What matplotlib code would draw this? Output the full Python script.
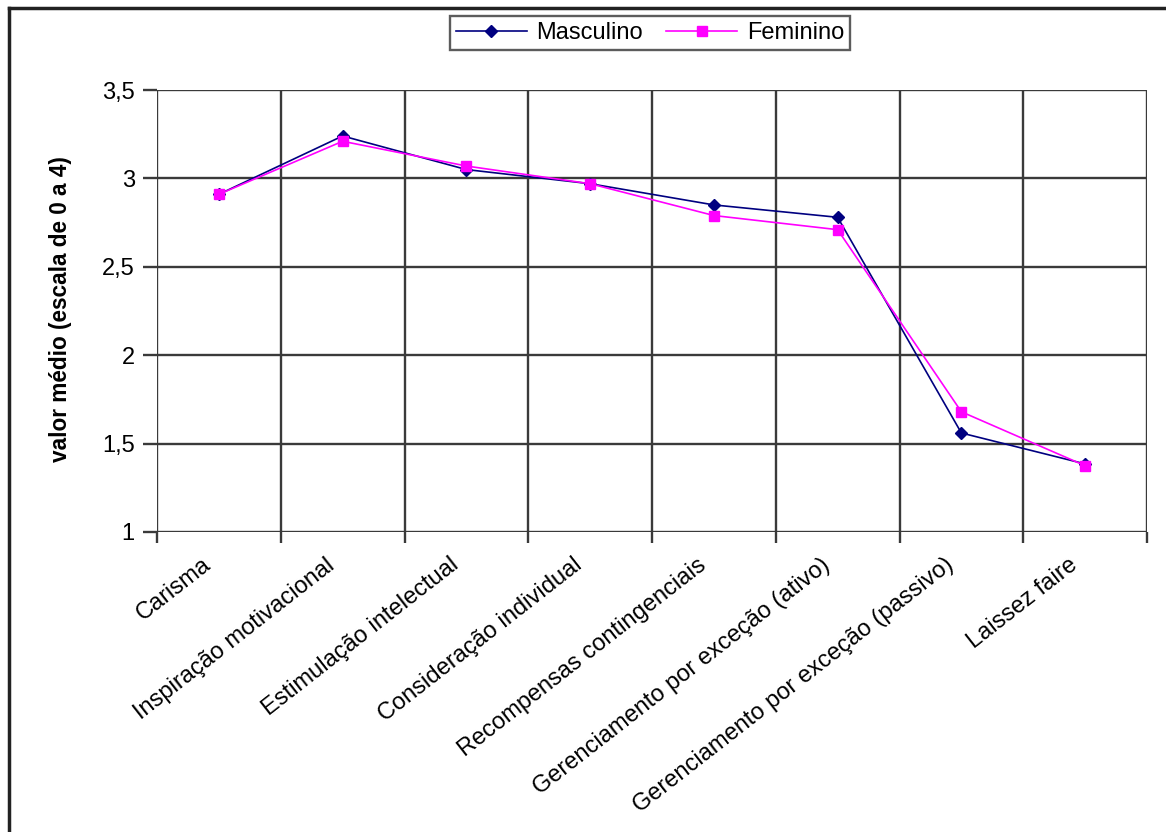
import matplotlib
matplotlib.use('Agg')
import matplotlib.pyplot as plt
from matplotlib.lines import Line2D
from matplotlib.transforms import Bbox, TransformedBbox
import numpy as np

plt.rcParams['font.family'] = ['Liberation Sans', 'DejaVu Sans']

categorias = ['Carisma', 'Inspiração motivacional', 'Estimulação intelectual',
              'Consideração individual', 'Recompensas contingenciais',
              'Gerenciamento por exceção (ativo)',
              'Gerenciamento por exceção (passivo)', 'Laissez faire']
masculino = [2.91, 3.24, 3.05, 2.97, 2.85, 2.78, 1.56, 1.385]
feminino = [2.91, 3.21, 3.07, 2.97, 2.79, 2.71, 1.68, 1.375]
y_ticks = [1, 1.5, 2, 2.5, 3, 3.5]
y_tick_labels = ['1', '1,5', '2', '2,5', '3', '3,5']

fig = plt.figure(figsize=(11.66, 8.32), dpi=100)
ax = fig.add_axes([157 / 1166, 1 - 532 / 832, (1147 - 157) / 1166, (532 - 90) / 832])

x = np.arange(len(categorias))
ax.plot(x, masculino, color='#000080', lw=1.2, marker='D', ms=6.5,
        label='Masculino', zorder=3)
ax.plot(x, feminino, color='#FF00FF', lw=1.2, marker='s', ms=7,
        label='Feminino', zorder=4)

ax.set_xlim(-0.5, len(categorias) - 0.5)
ax.set_ylim(1, 3.5)

# gridlines sit on the category boundaries, labels on the centres
bounds = np.arange(len(categorias) + 1) - 0.5
for b in bounds:
    ax.axvline(b, color='#3a3a3a', lw=1.7, zorder=1)
for v in y_ticks:
    ax.axhline(v, color='#3a3a3a', lw=1.7, zorder=1)

ax.set_yticks(y_ticks)
ax.set_yticklabels(y_tick_labels, fontsize=17)
ax.tick_params(axis='y', length=10, width=1.7, color='#3a3a3a', pad=6)

ax.set_xticks(bounds)
ax.set_xticklabels([])
ax.tick_params(axis='x', length=8, width=1.7, color='#3a3a3a')

for i, cat in enumerate(categorias):
    ax.annotate(cat, xy=(i, 1), xytext=(-17, -22), textcoords='offset pixels',
                fontsize=17, rotation=38, ha='right', va='top',
                rotation_mode='anchor', annotation_clip=False)

for s in ax.spines.values():
    s.set_visible(False)

# axis title is cut off at the top of its box
ylab = fig.text(61 / 1166, 1 - 462 / 832, 'valor médio (escala de 0 a 4)',
                rotation=90, ha='center', va='bottom', fontsize=16.3,
                fontweight='bold')
ylab.set_clip_box(TransformedBbox(Bbox([[0, 0], [1, 1 - 156 / 832]]),
                                  fig.transFigure))
ylab.set_clip_on(True)

handles = [Line2D([], [], color='#000080', lw=1.2, marker='D', ms=6.5),
           Line2D([], [], color='#FF00FF', lw=1.2, marker='s', ms=7)]
leg = fig.legend(handles, ['Masculino', 'Feminino'], loc='center',
                 bbox_to_anchor=(650 / 1166, 1 - 33 / 832), ncol=2,
                 fontsize=17, frameon=True, fancybox=False, handlelength=3.0,
                 columnspacing=1.0, handletextpad=0.4, borderpad=0.25)
leg.get_frame().set_edgecolor('#333333')
leg.get_frame().set_linewidth(1.7)

# outer chart frame (left and top edges)
fig.add_artist(Line2D([9 / 1166, 9 / 1166], [0, 1 - 8 / 832],
                      transform=fig.transFigure, color='#222222', lw=2.5))
fig.add_artist(Line2D([9 / 1166, 1], [1 - 8 / 832, 1 - 8 / 832],
                      transform=fig.transFigure, color='#222222', lw=2.5))

fig.savefig('out.png', dpi=100)
